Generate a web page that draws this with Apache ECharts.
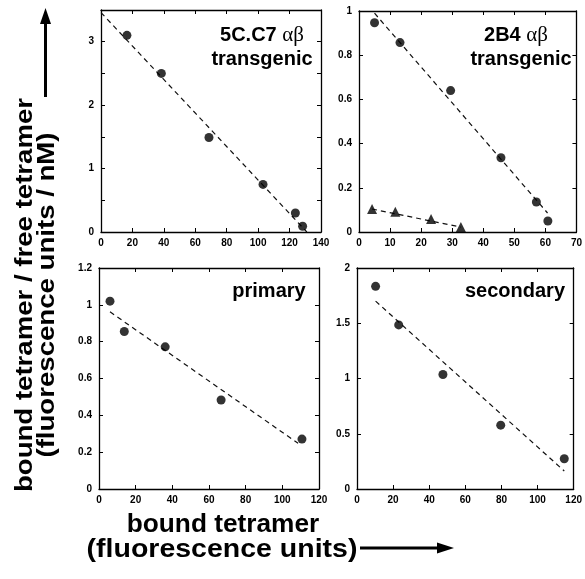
<!DOCTYPE html>
<html>
<head>
<meta charset="utf-8">
<script src="https://cdn.jsdelivr.net/npm/echarts@6/dist/echarts.min.js"></script>
<style>
  html, body { margin: 0; padding: 0; background: #fff; }
  #main { width: 585px; height: 579px; }
</style>
</head>
<body>
<div id="main"></div>
<script>
// panel 1: 5C.C7 transgenic
var p1X = [16.5, 38.4, 68.7, 103.1, 123.7, 128.3];
var p1Y = [3.10, 2.50, 1.49, 0.75, 0.30, 0.09];
var p1FitX = [0, 131];
var p1FitY = [3.46, 0];

// panel 2: 2B4 transgenic (circles + triangles)
var p2X = [5.0, 13.2, 29.5, 45.7, 57.1, 60.8];
var p2Y = [0.947, 0.857, 0.640, 0.336, 0.136, 0.050];
var p2FitX = [5.0, 60.7];
var p2FitY = [0.99, 0.086];
var p2TriX = [4.2, 11.7, 23.2, 32.8];
var p2TriY = [0.104, 0.092, 0.059, 0.023];
var p2TriFitX = [4.2, 32.8];
var p2TriFitY = [0.104, 0.022];

// panel 3: primary
var p3X = [6.0, 13.8, 36.1, 66.6, 110.7];
var p3Y = [1.02, 0.855, 0.772, 0.483, 0.271];
var p3FitX = [6.0, 108.6];
var p3FitY = [0.962, 0.248];

// panel 4: secondary
var p4X = [10.3, 23.1, 47.6, 79.6, 114.8];
var p4Y = [1.834, 1.485, 1.036, 0.578, 0.274];
var p4FitX = [10.3, 114.8];
var p4FitY = [1.70, 0.163];

// axis ranges
var xMax = [140, 70, 120, 120];
var xStep = [20, 10, 20, 20];
var yMax = [3.5, 1, 1.2, 2];
var yStep = [0.5, 0.2, 0.2, 0.5];

function pairs(xs, ys) {
    var out = [];
    for (var i = 0; i < xs.length; i++) out.push([xs[i], ys[i]]);
    return out;
}

var FONT = 'Liberation Sans';
var grids = [
    {left: 101, top: 10, width: 220, height: 222},
    {left: 359, top: 11, width: 220, height: 221},
    {left: 99, top: 268, width: 220, height: 221},
    {left: 357, top: 268, width: 221, height: 221}
];

var xAxes = [], yAxes = [];
for (var g = 0; g < 4; g++) {
    var lineStyle = {color: '#000', width: 1.3};
    var tick = {show: true, inside: true, length: 4, lineStyle: {color: '#000'}};
    // bottom / left axes carry the labels, top / right only mirror the ticks
    xAxes.push({
        gridIndex: g, type: 'value', position: 'bottom',
        min: 0, max: xMax[g], interval: xStep[g],
        axisLine: {show: true, onZero: false, lineStyle: lineStyle},
        axisTick: tick,
        axisLabel: {color: '#000', fontFamily: FONT, fontWeight: 'bold', fontSize: 10, margin: 6},
        splitLine: {show: false}
    });
    xAxes.push({
        gridIndex: g, type: 'value', position: 'top',
        min: 0, max: xMax[g], interval: xStep[g],
        axisLine: {show: true, onZero: false, lineStyle: lineStyle},
        axisTick: tick, axisLabel: {show: false}, splitLine: {show: false}
    });
    yAxes.push({
        gridIndex: g, type: 'value', position: 'left',
        min: 0, max: yMax[g], interval: yStep[g],
        axisLine: {show: true, onZero: false, lineStyle: lineStyle},
        axisTick: tick,
        axisLabel: {
            color: '#000', fontFamily: FONT, fontWeight: 'bold', fontSize: 10, margin: 7,
            formatter: (g === 0) ? function (v) { return (v % 1 === 0) ? String(v) : ''; } : null
        },
        splitLine: {show: false}
    });
    yAxes.push({
        gridIndex: g, type: 'value', position: 'right',
        min: 0, max: yMax[g], interval: yStep[g],
        axisLine: {show: true, onZero: false, lineStyle: lineStyle},
        axisTick: tick, axisLabel: {show: false}, splitLine: {show: false}
    });
}

function dots(g, xs, ys, sym) {
    return {
        type: 'scatter', xAxisIndex: 2 * g, yAxisIndex: 2 * g,
        data: pairs(xs, ys), symbol: sym || 'circle', symbolSize: sym ? 10 : 9,
        itemStyle: {color: '#000'}, z: 3
    };
}
function fit(g, xs, ys) {
    return {
        type: 'line', xAxisIndex: 2 * g, yAxisIndex: 2 * g,
        data: pairs(xs, ys), showSymbol: false, symbol: 'none',
        lineStyle: {color: '#111', width: 1.2, type: [5, 4]}, z: 2
    };
}

var labelRich = {
    b: {fontFamily: FONT, fontWeight: 'bold', fontSize: 20, color: '#000'},
    g: {fontFamily: 'Liberation Serif', fontWeight: 'normal', fontSize: 21, color: '#000'}
};
function label(text, cx, top) {
    return {text: text, left: cx, top: top, padding: 0, textAlign: 'center',
        textStyle: {rich: labelRich}};
}

var myChart = echarts.init(document.getElementById('main'));
var option = {
    backgroundColor: '#fff',
    animation: false,
    grid: grids,
    xAxis: xAxes,
    yAxis: yAxes,
    title: [
        label('{b|5C.C7 }{g|αβ}', 262, 25),
        label('{b|transgenic}', 262, 49),
        label('{b|2B4 }{g|αβ}', 516, 25),
        label('{b|transgenic}', 521, 49),
        label('{b|primary}', 269, 281),
        label('{b|secondary}', 515, 281)
    ],
    graphic: [
        {
            type: 'text', x: 36, y: 295, rotation: Math.PI / 2, scaleX: 1.15,
            style: {
                text: 'bound tetramer / free tetramer\n(fluorescence units / nM)',
                font: 'bold 24px "Liberation Sans"', fill: '#000',
                align: 'center', verticalAlign: 'middle',
                textAlign: 'center', textVerticalAlign: 'middle', lineHeight: 22
            }
        },
        {type: 'line', shape: {x1: 45.5, y1: 97, x2: 45.5, y2: 20}, style: {stroke: '#000', lineWidth: 3}},
        {type: 'polygon', shape: {points: [[45.5, 8], [40, 24], [51, 24]]}, style: {fill: '#000'}},
        {
            type: 'text', x: 223, y: 525, scaleX: 1.05,
            style: {
                text: 'bound tetramer',
                font: 'bold 25px "Liberation Sans"', fill: '#000',
                align: 'center', verticalAlign: 'middle',
                textAlign: 'center', textVerticalAlign: 'middle'
            }
        },
        {
            type: 'text', x: 222, y: 550, scaleX: 1.14,
            style: {
                text: '(fluorescence units)',
                font: 'bold 25px "Liberation Sans"', fill: '#000',
                align: 'center', verticalAlign: 'middle',
                textAlign: 'center', textVerticalAlign: 'middle'
            }
        },
        {type: 'line', shape: {x1: 360, y1: 548, x2: 440, y2: 548}, style: {stroke: '#000', lineWidth: 3}},
        {type: 'polygon', shape: {points: [[454, 548], [437, 542.5], [437, 553.5]]}, style: {fill: '#000'}}
    ],
    series: [
        dots(0, p1X, p1Y), fit(0, p1FitX, p1FitY),
        dots(1, p2X, p2Y), fit(1, p2FitX, p2FitY),
        dots(1, p2TriX, p2TriY, 'triangle'), fit(1, p2TriFitX, p2TriFitY),
        dots(2, p3X, p3Y), fit(2, p3FitX, p3FitY),
        dots(3, p4X, p4Y), fit(3, p4FitX, p4FitY)
    ]
};
myChart.setOption(option);
</script>
</body>
</html>
